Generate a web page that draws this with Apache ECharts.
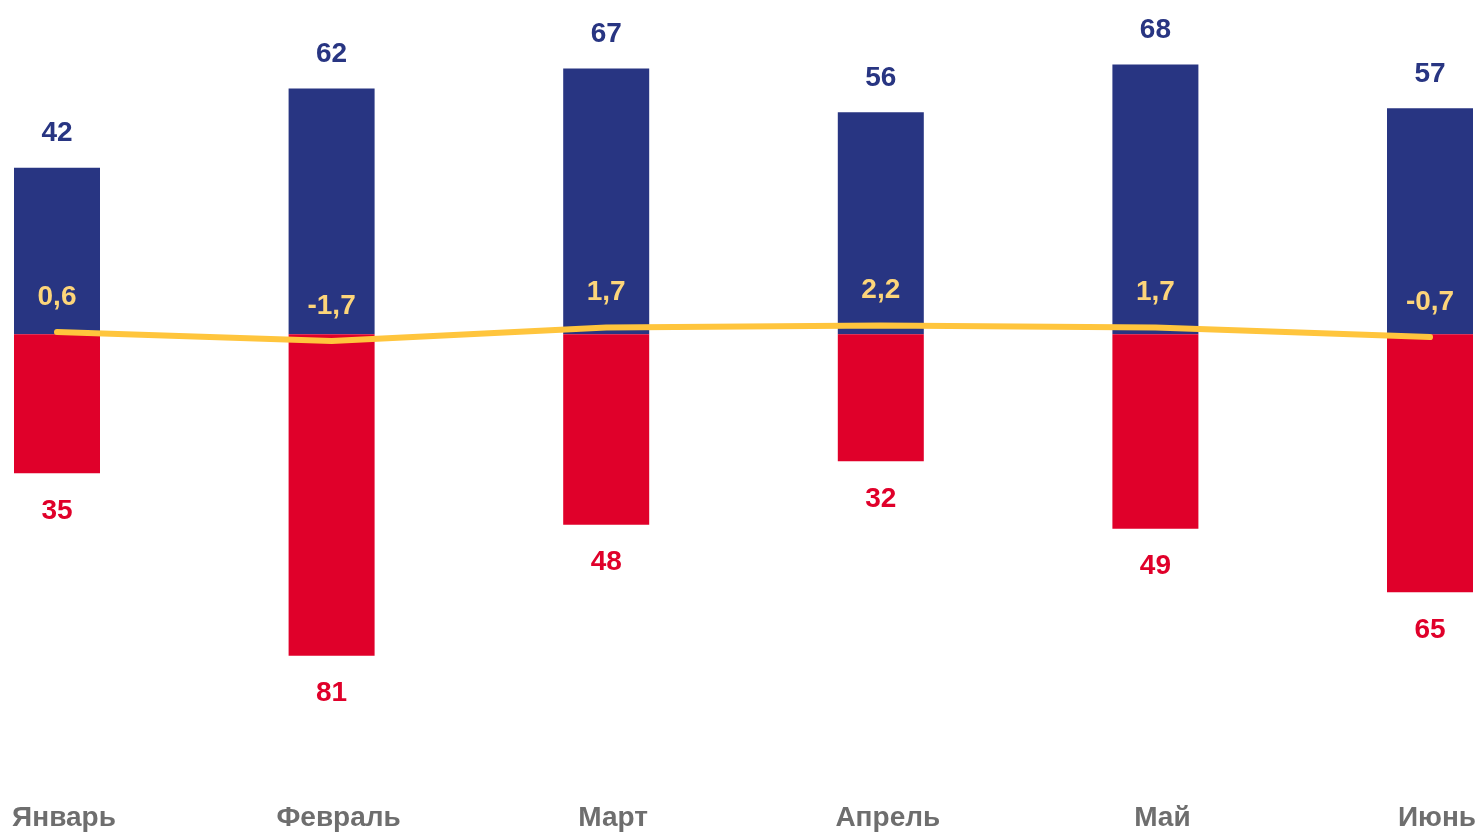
<!DOCTYPE html>
<html>
<head>
<meta charset="utf-8">
<script src="https://cdn.jsdelivr.net/npm/echarts@6/dist/echarts.min.js"></script>
<style>
  html, body { margin: 0; padding: 0; background: #fff; }
  #chart { width: 1483px; height: 832px; }
</style>
</head>
<body>
<div id="chart"></div>
<script>
// months and values
var months = ['Январь', 'Февраль', 'Март', 'Апрель', 'Май', 'Июнь'];
var blueValues = [42, 62, 67, 56, 68, 57];
var redValues = [35, 81, 48, 32, 49, 65];
var lineValues = [0.6, -1.7, 1.7, 2.2, 1.7, -0.7];

var BLUE = '#283582';
var RED = '#e0002a';
var YELLOW = '#ffc53d';
var FONT = '"Liberation Sans", Arial, sans-serif';

function comma(v) {
    return String(v).replace('.', ',');
}

var myChart = echarts.init(document.getElementById('chart'));

var option = {
    backgroundColor: '#ffffff',
    animation: false,
    grid: { left: 57, right: 53, top: 17, bottom: 100 },
    xAxis: {
        type: 'category',
        data: months,
        boundaryGap: false,
        axisLine: { show: false },
        axisTick: { show: false },
        splitLine: { show: false },
        axisLabel: {
            margin: 73,
            padding: [0, 0, 0, 14],
            color: '#6e6e6e',
            fontSize: 28,
            fontWeight: 'bold',
            fontFamily: FONT
        }
    },
    yAxis: {
        type: 'value',
        min: -100,
        max: 80,
        show: false
    },
    series: [
        {
            name: 'plus',
            type: 'bar',
            stack: 'a',
            barWidth: 86,
            clip: false,
            data: blueValues,
            itemStyle: { color: BLUE },
            label: {
                show: true,
                position: 'top',
                distance: 20,
                color: BLUE,
                fontSize: 28,
                fontWeight: 'bold',
                fontFamily: FONT
            }
        },
        {
            name: 'minus',
            type: 'bar',
            stack: 'a',
            barWidth: 86,
            clip: false,
            data: redValues.map(function (v) { return -v; }),
            itemStyle: { color: RED },
            label: {
                show: true,
                position: 'bottom',
                distance: 24,
                color: RED,
                fontSize: 28,
                fontWeight: 'bold',
                fontFamily: FONT,
                formatter: function (p) { return Math.abs(p.value); }
            }
        },
        {
            name: 'saldo',
            type: 'line',
            data: lineValues,
            symbol: 'circle',
            symbolSize: 2,
            showSymbol: true,
            showAllSymbol: true,
            z: 5,
            itemStyle: { color: YELLOW },
            lineStyle: { color: YELLOW, width: 6, cap: 'round' },
            label: {
                show: true,
                position: 'top',
                distance: 20,
                color: '#fdd57a',
                fontSize: 28,
                fontWeight: 'bold',
                fontFamily: FONT,
                formatter: function (p) { return comma(p.value); }
            }
        }
    ]
};

myChart.setOption(option);

window.addEventListener('resize', function () {
    myChart.resize();
});
</script>
</body>
</html>
